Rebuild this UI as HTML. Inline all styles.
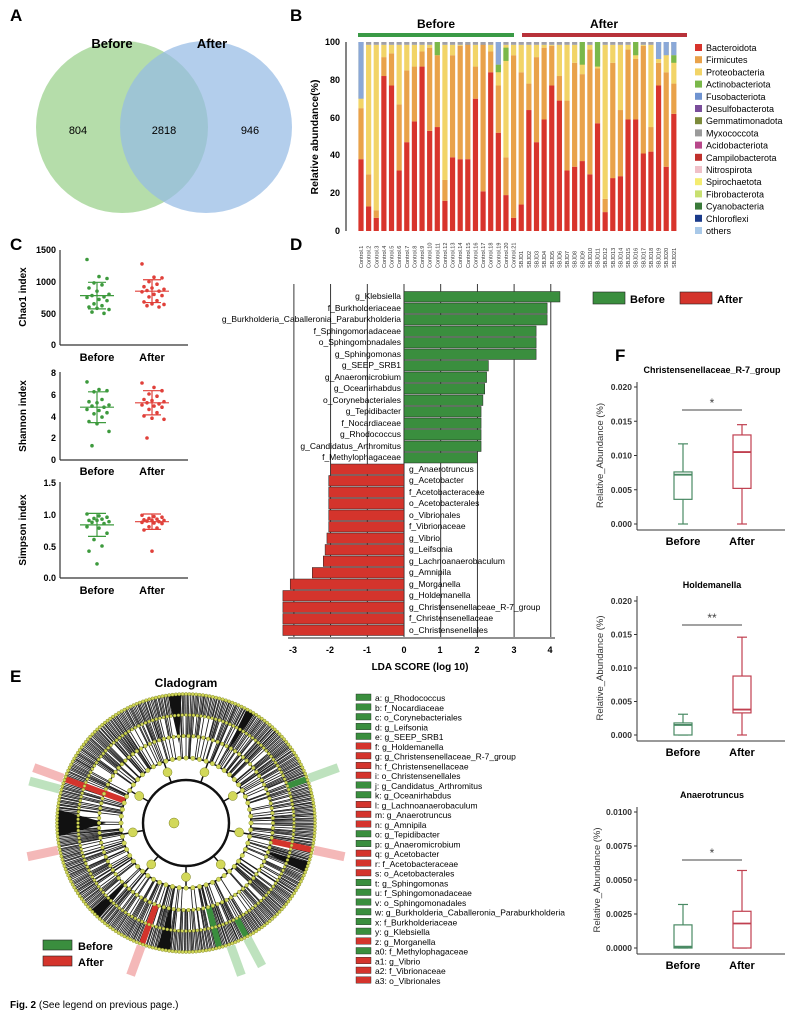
<!DOCTYPE html>
<html><head><meta charset="utf-8"><style>
body{margin:0;background:#fff}
svg{display:block;font-family:"Liberation Sans",Arial,sans-serif}
.pl{font-weight:bold;font-size:17px}
.t8{font-size:8.5px}
.b{font-weight:bold}
</style></head><body>
<svg id="s" width="800" height="1018" viewBox="0 0 800 1018" xmlns="http://www.w3.org/2000/svg">
<!-- A -->
<text class="pl" x="10" y="21">A</text>
<circle cx="122" cy="127" r="86" fill="#b5ddaa"/>
<circle cx="206" cy="127" r="86" fill="#95bbe4" fill-opacity="0.72"/>
<text x="112" y="48" class="b" font-size="13" text-anchor="middle">Before</text>
<text x="212" y="48" class="b" font-size="13" text-anchor="middle">After</text>
<text x="78" y="134" font-size="11" text-anchor="middle">804</text>
<text x="164" y="134" font-size="11" text-anchor="middle">2818</text>
<text x="250" y="134" font-size="11" text-anchor="middle">946</text>

<!-- B -->
<text class="pl" x="290" y="21">B</text>
<rect x="358" y="33" width="156" height="4" fill="#3a9a46"/>
<rect x="522" y="33" width="165" height="4" fill="#b8323a"/>
<text x="436" y="28" class="b" font-size="12" text-anchor="middle">Before</text>
<text x="604" y="28" class="b" font-size="12" text-anchor="middle">After</text>
<line x1="346" y1="42" x2="346" y2="231" stroke="#333" stroke-width="1.2"/>
<g font-size="9" font-weight="bold" text-anchor="end">
<text x="340" y="45">100</text><text x="340" y="83">80</text><text x="340" y="121">60</text><text x="340" y="158">40</text><text x="340" y="196">20</text><text x="340" y="234">0</text>
</g>
<text transform="translate(318,137) rotate(-90)" class="b" font-size="10.5" text-anchor="middle">Relative abundance(%)</text>
<g id="bars"></g>
<g id="blab" font-size="5.5" fill="#333"></g>
<g id="bleg" font-size="9"></g>

<!-- C -->
<text class="pl" x="10" y="250">C</text>
<g font-size="9" font-weight="bold" text-anchor="end">
<text x="56" y="253">1500</text><text x="56" y="285">1000</text><text x="56" y="317">500</text><text x="56" y="348">0</text>
<text x="56" y="376">8</text><text x="56" y="398">6</text><text x="56" y="420">4</text><text x="56" y="441">2</text><text x="56" y="463">0</text>
<text x="56" y="486">1.5</text><text x="56" y="518">1.0</text><text x="56" y="550">0.5</text><text x="56" y="581">0.0</text>
</g>
<g font-size="10" font-weight="bold">
<text transform="translate(26,297) rotate(-90)" text-anchor="middle">Chao1 index</text>
<text transform="translate(26,416) rotate(-90)" text-anchor="middle">Shannon index</text>
<text transform="translate(26,530) rotate(-90)" text-anchor="middle">Simpson index</text>
</g>
<g font-size="11" font-weight="bold" text-anchor="middle">
<text x="97" y="361">Before</text><text x="152" y="361">After</text>
<text x="97" y="475">Before</text><text x="152" y="475">After</text>
<text x="97" y="594">Before</text><text x="152" y="594">After</text>
</g>
<g id="cc"></g>

<!-- D -->
<text class="pl" x="290" y="250">D</text>
<g id="lda"></g>
<g font-size="9" font-weight="bold" text-anchor="middle">
<text x="293" y="653">-3</text><text x="330" y="653">-2</text><text x="367" y="653">-1</text><text x="404" y="653">0</text><text x="440" y="653">1</text><text x="477" y="653">2</text><text x="514" y="653">3</text><text x="550" y="653">4</text>
<text x="420" y="670" font-size="10">LDA SCORE (log 10)</text>
</g>
<g class="t8" text-anchor="end">
<text x="401" y="299">g_Klebsiella</text>
<text x="401" y="311">f_Burkholderiaceae</text>
<text x="401" y="322">g_Burkholderia_Caballeronia_Paraburkholderia</text>
<text x="401" y="334">f_Sphingomonadaceae</text>
<text x="401" y="345">o_Sphingomonadales</text>
<text x="401" y="357">g_Sphingomonas</text>
<text x="401" y="368">g_SEEP_SRB1</text>
<text x="401" y="380">g_Anaeromicrobium</text>
<text x="401" y="391">g_Oceanirhabdus</text>
<text x="401" y="403">o_Corynebacteriales</text>
<text x="401" y="414">g_Tepidibacter</text>
<text x="401" y="426">f_Nocardiaceae</text>
<text x="401" y="437">g_Rhodococcus</text>
<text x="401" y="449">g_Candidatus_Arthromitus</text>
<text x="401" y="460">f_Methylophagaceae</text>
</g>
<g class="t8">
<text x="409" y="472">g_Anaerotruncus</text>
<text x="409" y="483">g_Acetobacter</text>
<text x="409" y="495">f_Acetobacteraceae</text>
<text x="409" y="506">o_Acetobacterales</text>
<text x="409" y="518">o_Vibrionales</text>
<text x="409" y="529">f_Vibrionaceae</text>
<text x="409" y="541">g_Vibrio</text>
<text x="409" y="552">g_Leifsonia</text>
<text x="409" y="564">g_Lachnoanaerobaculum</text>
<text x="409" y="575">g_Amnipila</text>
<text x="409" y="587">g_Morganella</text>
<text x="409" y="598">g_Holdemanella</text>
<text x="409" y="610">g_Christensenellaceae_R-7_group</text>
<text x="409" y="621">f_Christensenellaceae</text>
<text x="409" y="633">o_Christensenellales</text>
</g>
<rect x="593" y="292" width="32" height="12" fill="#3a8e3e" stroke="#222" stroke-width="0.6"/>
<text x="630" y="303" class="b" font-size="11">Before</text>
<rect x="680" y="292" width="32" height="12" fill="#d4342c" stroke="#222" stroke-width="0.6"/>
<text x="717" y="303" class="b" font-size="11">After</text>

<!-- E -->
<text class="pl" x="10" y="682">E</text>
<text x="186" y="687" class="b" font-size="12" text-anchor="middle">Cladogram</text>
<g id="clad"></g>
<rect x="43" y="940" width="29" height="10" fill="#3a8e3e" stroke="#222" stroke-width="0.6"/>
<text x="78" y="950" class="b" font-size="11">Before</text>
<rect x="43" y="956" width="29" height="10" fill="#d4342c" stroke="#222" stroke-width="0.6"/>
<text x="78" y="966" class="b" font-size="11">After</text>
<g id="elist" class="t8"></g>

<!-- F -->
<text class="pl" x="615" y="361">F</text>
<g id="box"></g>
<g font-size="9" font-weight="bold" text-anchor="middle">
<text x="712" y="373">Christensenellaceae_R-7_group</text>
<text x="712" y="588">Holdemanella</text>
<text x="712" y="798">Anaerotruncus</text>
</g>

<text x="10" y="1008" font-size="10"><tspan font-weight="bold">Fig. 2</tspan>  (See legend on previous page.)</text>
</svg>
<script>
const NS="http://www.w3.org/2000/svg";
function el(p,t,a){const e=document.createElementNS(NS,t);for(const k in a)e.setAttribute(k,a[k]);p.appendChild(e);return e}
const red=[38,13,7,82,77,32,47,58,87,53,55,16,39,38,38,70,21,84,52,19,7,14,64,47,59,77,69,32,34,37,30,57,10,28,29,59,59,41,42,77,34,62];
const org=[65,30,11,92,94,67,85,87,95,97,93,27,93,98,99,87,99,95,77,39,93,84,78,92,97,98,82,69,89,83,96,86,17,89,64,96,91,98,55,89,84,78];
const extra={0:[[70,100,'#8aa8d8']],10:[[93,100,'#7ab84a']],18:[[84,88,'#7ab84a'],[88,100,'#8aa8d8']],19:[[90,97,'#7ab84a']],29:[[88,100,'#7ab84a']],31:[[87,100,'#7ab84a']],36:[[93,100,'#7ab84a']],39:[[91,100,'#8aa8d8']],40:[[93,100,'#8aa8d8']],41:[[89,93,'#7ab84a'],[93,100,'#8aa8d8']]};
const gB=document.getElementById('bars');
const Y=v=>231-v*1.89;
for(let i=0;i<42;i++){const x=361+i*7.63-2.6;
 const seg=[[0,red[i],'#d8342c'],[red[i],org[i],'#e9a24a'],[org[i],98.5,'#f2d467'],[98.5,100,'#a0a0a8']];
 (extra[i]||[]).forEach(s=>seg.push(s));
 seg.forEach(s=>{if(s[1]>s[0])el(gB,'rect',{x:x,y:Y(s[1]),width:5.2,height:(s[1]-s[0])*1.89,fill:s[2]})});
}
const bl=document.getElementById('blab');
for(let i=0;i<42;i++){const x=361+i*7.63+2;const t=el(bl,'text',{transform:`translate(${x},268) rotate(-90)`});t.textContent=i<21?'Control.'+(i+1):'SBJD'+(i-20);}
const legn=[['Bacteroidota','#d8342c'],['Firmicutes','#e9a24a'],['Proteobacteria','#f2d467'],['Actinobacteriota','#7ab84a'],['Fusobacteriota','#6f93d0'],['Desulfobacterota','#7a4d9a'],['Gemmatimonadota','#7c8a3a'],['Myxococcota','#9a9a9a'],['Acidobacteriota','#b8488a'],['Campilobacterota','#c0302c'],['Nitrospirota','#f0c0c8'],['Spirochaetota','#f4ec70'],['Fibrobacterota','#c8e070'],['Cyanobacteria','#3a7a3a'],['Chloroflexi','#1a3a8a'],['others','#a8c8e8']];
const lg=document.getElementById('bleg');
legn.forEach((l,i)=>{const y=44+i*12.2;el(lg,'rect',{x:695,y:y,width:7,height:7,fill:l[1]});const t=el(lg,'text',{x:706,y:y+7});t.textContent=l[0];});
const cc=document.getElementById('cc');
function panel(y0,y1,vals,mean,sd,scale){
 el(cc,'line',{x1:60,y1:y0,x2:60,y2:y1,stroke:'#333','stroke-width':1.2});
 el(cc,'line',{x1:60,y1:y1,x2:188,y2:y1,stroke:'#333','stroke-width':1.2});
 [[97,'#3d9a3d',0],[152,'#e0403a',1]].forEach(g=>{
  vals[g[2]].forEach((v,i)=>el(cc,'circle',{cx:g[0]+((i*7)%5-2)*5+((i%2)?2:0),cy:y1-v*scale,r:1.8,fill:g[1]}));
  const m=mean[g[2]],s=sd[g[2]];
  el(cc,'line',{x1:g[0]-17,x2:g[0]+17,y1:y1-m*scale,y2:y1-m*scale,stroke:g[1],'stroke-width':1.2});
  el(cc,'line',{x1:g[0],x2:g[0],y1:y1-(m-s)*scale,y2:y1-(m+s)*scale,stroke:g[1],'stroke-width':1.2});
  el(cc,'line',{x1:g[0]-9,x2:g[0]+9,y1:y1-(m-s)*scale,y2:y1-(m-s)*scale,stroke:g[1],'stroke-width':1.2});
  el(cc,'line',{x1:g[0]-9,x2:g[0]+9,y1:y1-(m+s)*scale,y2:y1-(m+s)*scale,stroke:g[1],'stroke-width':1.2});
 });
}
panel(250,345,[[1350,1080,1050,980,950,900,850,800,780,760,750,720,700,650,620,600,580,560,520,500],[1280,1070,1060,1000,960,920,900,880,860,850,840,800,780,760,700,680,650,640,620,600]],[780,850],[210,180],95/1500);
panel(372,460,[[7.1,6.4,6.3,6.2,5.5,5.3,5.2,5.0,4.9,4.8,4.6,4.5,4.3,4.2,3.9,3.5,3.3,2.6,1.3],[7.0,6.6,6.3,6.0,5.8,5.5,5.4,5.3,5.2,5.1,5.0,4.9,4.8,4.6,4.3,4.0,3.8,3.7,2.0]],[4.8,5.2],[1.4,1.1],88/8);
panel(482,578,[[1.0,0.97,0.95,0.93,0.92,0.9,0.9,0.88,0.87,0.85,0.8,0.78,0.7,0.6,0.5,0.42,0.22],[0.98,0.96,0.95,0.93,0.92,0.91,0.9,0.9,0.89,0.88,0.87,0.86,0.85,0.8,0.78,0.75,0.42]],[0.83,0.88],[0.18,0.12],96/1.5);
const g=document.getElementById('lda');
const U=36.7,Z=404;
[-3,-2,-1,0,1,2,3,4].forEach(v=>el(g,'line',{x1:Z+v*U,x2:Z+v*U,y1:284,y2:637,stroke:'#222','stroke-width':0.9}));
const lv=[4.25,3.9,3.9,3.6,3.6,3.6,2.3,2.25,2.2,2.15,2.1,2.1,2.1,2.1,2.0,-2.0,-2.05,-2.05,-2.05,-2.05,-2.05,-2.1,-2.15,-2.2,-2.5,-3.1,-3.3,-3.3,-3.3,-3.3];
lv.forEach((v,i)=>{const y=291+i*11.5;el(g,'rect',{x:v>0?Z:Z+v*U,y:y+0.5,width:Math.abs(v)*U,height:10.5,fill:v>0?'#3a8e3e':'#d4342c',stroke:'#222','stroke-width':0.5})});
el(g,'line',{x1:288,x2:555,y1:638,y2:638,stroke:'#222','stroke-width':1});
// E cladogram
const c=document.getElementById('clad');const cx=186,cy=823;
function pt(r,a){return [cx+r*Math.cos(a),cy+r*Math.sin(a)]}
let seed=7;function rnd(){seed=(seed*9301+49297)%233280;return seed/233280}
const rings=[43,65,87,108,129];
// highlight sectors (behind)
[[200,'#f0a0a0'],[168,'#f0a0a0'],[110,'#f0a0a0'],[12,'#f0a0a0'],[-20,'#a8d8a8'],[70,'#a8d8a8'],[62,'#a8d8a8'],[195,'#a8d8a8']].forEach(h=>{const a=h[0]*Math.PI/180;const p=pt(120,a),q=pt(162,a);el(c,'line',{x1:p[0],y1:p[1],x2:q[0],y2:q[1],stroke:h[1],'stroke-width':9,'stroke-opacity':0.75})});
el(c,'circle',{cx:cx,cy:cy,r:131,fill:'#fff'});
// radial dense lines
for(let k=0;k<560;k++){const a=k/560*2*Math.PI+rnd()*0.005;const r0=rings[1+Math.floor(rnd()*3)];const p=pt(r0,a),q=pt(129,a);el(c,'line',{x1:p[0],y1:p[1],x2:q[0],y2:q[1],stroke:'#111','stroke-width':0.8})}
// black wedges
[[180,12],[100,6],[-95,6],[135,5],[20,5],[-60,4]].forEach(w=>{const a0=(w[0]-w[1]/2)*Math.PI/180,a1=(w[0]+w[1]/2)*Math.PI/180;const p=pt(129,a0),q=pt(129,a1),o=pt(80,w[0]*Math.PI/180);el(c,'path',{d:`M${o[0]},${o[1]}L${p[0]},${p[1]}L${q[0]},${q[1]}Z`,fill:'#111'})});
rings.forEach((r,i)=>el(c,'circle',{cx:cx,cy:cy,r:r,fill:'none',stroke:i==4?'#8a9030':'#111','stroke-width':i==0?2:1.5}));
el(c,'circle',{cx:cx,cy:cy,r:41.5,fill:'#fff'});
el(c,'circle',{cx:cx,cy:cy,r:43,fill:'none',stroke:'#111','stroke-width':2.4});
// inner tree branches
for(let k=0;k<9;k++){const a=(k*40+10)*Math.PI/180;const p=pt(43,a),q=pt(65,a);el(c,'line',{x1:p[0],y1:p[1],x2:q[0],y2:q[1],stroke:'#111','stroke-width':1.5})}
[[200,'#d4342c',65],[12,'#d4342c',87],[110,'#d4342c',87],[-20,'#3a8e3e',108],[75,'#3a8e3e',87],[62,'#3a8e3e',108]].forEach(h=>{const a=h[0]*Math.PI/180;const p=pt(h[2],a),q=pt(129,a);el(c,'line',{x1:p[0],y1:p[1],x2:q[0],y2:q[1],stroke:h[1],'stroke-width':6})});
[[65,60,2.2],[87,110,1.8],[108,180,1.5],[129,240,1.6]].forEach(r=>{for(let k=0;k<r[1];k++){const p=pt(r[0],k/r[1]*2*Math.PI);el(c,'circle',{cx:p[0],cy:p[1],r:r[2],fill:'#d2d85a',stroke:'#7a8020','stroke-width':0.4})}});
for(let k=0;k<9;k++){const a=(k*40+10)*Math.PI/180;const p=pt(54,a);el(c,'circle',{cx:p[0],cy:p[1],r:4.5,fill:'#d2d85a',stroke:'#7a8020','stroke-width':0.5})}
el(c,'circle',{cx:cx-12,cy:cy,r:5,fill:'#d2d85a',stroke:'#7a8020','stroke-width':0.5});
const items=['a: g_Rhodococcus','b: f_Nocardiaceae','c: o_Corynebacteriales','d: g_Leifsonia','e: g_SEEP_SRB1','f: g_Holdemanella','g: g_Christensenellaceae_R-7_group','h: f_Christensenellaceae','i: o_Christensenellales','j: g_Candidatus_Arthromitus','k: g_Oceanirhabdus','l: g_Lachnoanaerobaculum','m: g_Anaerotruncus','n: g_Amnipila','o: g_Tepidibacter','p: g_Anaeromicrobium','q: g_Acetobacter','r: f_Acetobacteraceae','s: o_Acetobacterales','t: g_Sphingomonas','u: f_Sphingomonadaceae','v: o_Sphingomonadales','w: g_Burkholderia_Caballeronia_Paraburkholderia','x: f_Burkholderiaceae','y: g_Klebsiella','z: g_Morganella','a0: f_Methylophagaceae','a1: g_Vibrio','a2: f_Vibrionaceae','a3: o_Vibrionales'];
const redset=['f','g','h','i','l','m','n','q','r','s','z','a1','a2','a3'];
const L=document.getElementById('elist');
items.forEach((t,i)=>{const y=694+i*9.75;const k=t.split(':')[0];el(L,'rect',{x:356,y:y,width:15,height:6.5,fill:redset.includes(k)?'#d4342c':'#3a8e3e',stroke:'#222','stroke-width':0.4});const e=el(L,'text',{x:375,y:y+7});e.textContent=t;});
const B=document.getElementById('box');
function bp(yTop,yBot,max,ticks,b1,b2,sigY,star,dec){
 el(B,'line',{x1:637,x2:637,y1:yTop-5,y2:yBot+6,stroke:'#333','stroke-width':1});
 el(B,'line',{x1:637,x2:785,y1:yBot+6,y2:yBot+6,stroke:'#333','stroke-width':1});
 const sc=v=>yBot-v/max*(yBot-yTop);
 ticks.forEach(t=>{el(B,'line',{x1:634,x2:637,y1:sc(t),y2:sc(t),stroke:'#333'});const e=el(B,'text',{x:632,y:sc(t)+3,'font-size':8.5,'font-weight':'bold','text-anchor':'end',fill:'#333'});e.textContent=t.toFixed(dec)});
 [[683,b1,'#4a8a64'],[742,b2,'#c04050']].forEach(q=>{const [x,d,col]=q;const a={stroke:col,'stroke-width':1.2,fill:'none'};
  el(B,'line',Object.assign({x1:x,x2:x,y1:sc(d[0]),y2:sc(d[4])},a));
  el(B,'line',Object.assign({x1:x-5,x2:x+5,y1:sc(d[0]),y2:sc(d[0])},a));
  el(B,'line',Object.assign({x1:x-5,x2:x+5,y1:sc(d[4]),y2:sc(d[4])},a));
  el(B,'rect',{x:x-9,y:sc(d[3]),width:18,height:sc(d[1])-sc(d[3]),fill:'#fff',stroke:col,'stroke-width':1.2});
  el(B,'line',Object.assign({x1:x-9,x2:x+9,y1:sc(d[2]),y2:sc(d[2])},a,{'stroke-width':1.8}));
 });
 el(B,'line',{x1:682,x2:742,y1:sigY,y2:sigY,stroke:'#444','stroke-width':1});
 const e=el(B,'text',{x:712,y:sigY-3,'font-size':12,'text-anchor':'middle',fill:'#444'});e.textContent=star;
 [[683,'Before'],[742,'After']].forEach(q=>{const t=el(B,'text',{x:q[0],y:yBot+21,'font-size':11,'font-weight':'bold','text-anchor':'middle'});t.textContent=q[1]});
 const lab=el(B,'text',{transform:`translate(${dec==4?600:603},${(yTop+yBot)/2}) rotate(-90)`,'font-size':9.5,'text-anchor':'middle',fill:'#333'});lab.textContent='Relative_Abundance (%)';
}
bp(387,524,0.02,[0,0.005,0.010,0.015,0.020],[0,0.0036,0.0072,0.0076,0.0117],[0,0.0052,0.0105,0.013,0.0145],410,'*',3);
bp(601,735,0.02,[0,0.005,0.010,0.015,0.020],[0,0,0.0015,0.0018,0.0031],[0,0.0033,0.0038,0.0088,0.0146],625,'**',3);
bp(812,948,0.01,[0,0.0025,0.005,0.0075,0.01],[0,0,0.0001,0.0017,0.0032],[0,0,0.0018,0.0027,0.0057],860,'*',4);
</script>
</body></html>
